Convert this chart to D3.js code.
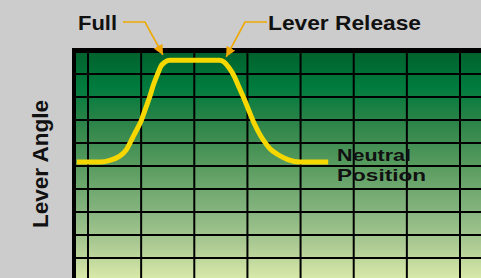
<html>
<script src="https://d3js.org/d3.v7.min.js"></script>
<style>
  body { margin: 0; background: #cccccc; overflow: hidden; }
  svg text {
    font-family: "Liberation Sans", Arial, sans-serif;
    font-weight: bold;
    fill: #111111;
  }
</style>
<body>
<svg width="481" height="278"></svg>
<script>
// time gridlines and angle gridlines
const timeTicks = [0, 1, 2, 3, 4, 5, 6, 7];
const angleTicks = [1, 2, 3, 4, 5, 6, 7, 8, 9];

// lever trace (time, angle in grid units)
const leverTime = [-0.21, 0.23, 0.41, 0.58, 0.72, 0.81, 0.90, 1.00, 1.08, 1.16, 1.23, 1.31, 1.37, 1.45, 1.54,
  2.47, 2.56, 2.65, 2.75, 2.84, 2.94, 3.03, 3.12, 3.22, 3.31, 3.42, 3.57, 3.76, 3.99, 4.52];
const leverAngle = [5.17, 5.17, 5.24, 5.41, 5.70, 6.09, 6.50, 6.96, 7.48, 8.00, 8.52, 9.00, 9.33, 9.52, 9.60,
  9.60, 9.52, 9.28, 8.91, 8.43, 7.91, 7.39, 6.89, 6.43, 6.09, 5.76, 5.50, 5.28, 5.17, 5.17];

// callouts pointing at the trace
const noteLabels = ["Full", "Lever Release"];
const noteTime = [1.41, 2.60];
const noteAngle = [9.83, 9.74];

const neutralLabel = ["Neutral", "Position"];
const yTitle = "Lever Angle";

const svg = d3.select("svg");

const x = d3.scaleLinear().domain([0, 7]).range([88, 460]);
const y = d3.scaleLinear().domain([0, 10]).range([281, 51]);

const frameL = 72, frameT = 48, frameR = 490, frameB = 290;

// gradient
const defs = svg.append("defs");
const grad = defs.append("linearGradient")
  .attr("id", "bg").attr("x1", 0).attr("y1", 0).attr("x2", 0).attr("y2", 1);
[[0, "#00622d"], [0.15, "#007b3e"], [0.3, "#2a8347"], [0.5, "#589b5f"],
 [0.7, "#85b47e"], [0.85, "#acca93"], [1, "#d8e9a9"]].forEach(function (s) {
  grad.append("stop").attr("offset", s[0]).attr("stop-color", s[1]);
});

defs.append("marker")
  .attr("id", "arrow")
  .attr("viewBox", "0 0 10 10")
  .attr("refX", 10).attr("refY", 5)
  .attr("markerWidth", 10).attr("markerHeight", 10)
  .attr("markerUnits", "userSpaceOnUse")
  .attr("orient", "auto")
  .append("path").attr("d", "M0,0L10,5L0,10Z").attr("fill", "#f0a800");

// frame
svg.append("rect")
  .attr("x", frameL).attr("y", frameT)
  .attr("width", frameR - frameL).attr("height", frameB - frameT)
  .attr("fill", "#000");
svg.append("rect")
  .attr("x", frameL + 4).attr("y", frameT + 5)
  .attr("width", frameR - frameL - 4).attr("height", 278 - frameT - 5)
  .attr("fill", "url(#bg)");

// grid
svg.append("g").selectAll("line").data(timeTicks).enter().append("line")
  .attr("x1", d => x(d)).attr("x2", d => x(d))
  .attr("y1", frameT + 5).attr("y2", frameB)
  .attr("stroke", "#000").attr("stroke-width", 2);
svg.append("g").selectAll("line").data(angleTicks).enter().append("line")
  .attr("y1", d => y(d)).attr("y2", d => y(d))
  .attr("x1", frameL + 4).attr("x2", frameR)
  .attr("stroke", "#000").attr("stroke-width", 2);

// lever trace
const pts = leverTime.map((t, i) => [t, leverAngle[i]]);
const line = d3.line()
  .x(d => x(d[0]))
  .y(d => y(d[1]))
  .curve(d3.curveMonotoneX);
svg.append("path")
  .attr("d", line(pts))
  .attr("fill", "none")
  .attr("stroke", "#f6d800")
  .attr("stroke-width", 5);

// labels
svg.append("text")
  .attr("transform", "translate(48,164) rotate(-90)")
  .attr("text-anchor", "middle")
  .attr("font-size", 22)
  .attr("textLength", 128)
  .attr("lengthAdjust", "spacingAndGlyphs")
  .text(yTitle);

svg.append("text")
  .attr("x", 337).attr("y", 160.8)
  .attr("font-size", 17)
  .attr("textLength", 74).attr("lengthAdjust", "spacingAndGlyphs")
  .text(neutralLabel[0]);
svg.append("text")
  .attr("x", 337).attr("y", 180.5)
  .attr("font-size", 17)
  .attr("textLength", 89).attr("lengthAdjust", "spacingAndGlyphs")
  .text(neutralLabel[1]);

// callouts
svg.append("text")
  .attr("x", 78).attr("y", 30)
  .attr("font-size", 21)
  .attr("textLength", 39).attr("lengthAdjust", "spacingAndGlyphs")
  .text(noteLabels[0]);
svg.append("text")
  .attr("x", 268).attr("y", 30)
  .attr("font-size", 21)
  .attr("textLength", 153).attr("lengthAdjust", "spacingAndGlyphs")
  .text(noteLabels[1]);

const elbows = [[[123, 22], [145, 22]], [[267, 22], [245, 22]]];
elbows.forEach(function (e, i) {
  svg.append("path")
    .attr("d", d3.line()([e[0], e[1], [x(noteTime[i]), y(noteAngle[i])]]))
    .attr("fill", "none")
    .attr("stroke", "#f0a800")
    .attr("stroke-width", 1.6)
    .attr("marker-end", "url(#arrow)");
});
</script>
</body>
</html>
